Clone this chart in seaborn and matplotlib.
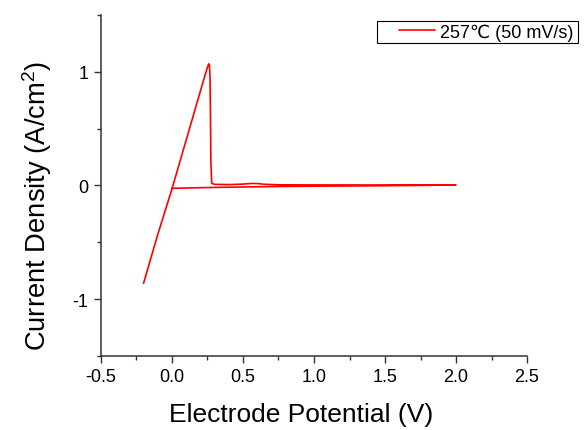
import numpy as np
import pandas as pd
import seaborn as sns
import matplotlib.pyplot as plt
from matplotlib.ticker import MultipleLocator
from matplotlib.patches import Rectangle

sns.set_theme(style='ticks')
plt.rcParams['font.family'] = ['Liberation Sans', 'DejaVu Sans']
plt.rcParams['axes.unicode_minus'] = False
plt.rcParams['mathtext.default'] = 'regular'

# cyclic voltammogram, forward sweep then return sweep
potential = [-0.20, -0.10, 0.00, 0.10, 0.20, 0.235, 0.250, 0.258, 0.264, 0.268,
             0.271, 0.274, 0.280, 0.300, 0.400, 0.500, 0.560, 0.600, 0.650,
             0.750, 1.000, 1.250, 1.500, 1.750, 2.000,
             1.750, 1.500, 1.250, 1.000, 0.750, 0.500, 0.250, 0.000]
current = [-0.86, -0.43, -0.03, 0.40, 0.83, 0.98, 1.04, 1.07, 1.06, 0.95,
           0.60, 0.20, 0.02, 0.010, 0.008, 0.012, 0.018, 0.017, 0.011,
           0.006, 0.005, 0.005, 0.004, 0.004, 0.004,
           0.001, -0.002, -0.004, -0.006, -0.009, -0.013, -0.018, -0.025]
label = '257\u2103 (50 mV/s)'

df = pd.DataFrame({'E': potential, 'J': current})

fig = plt.figure(figsize=(5.85, 4.31), dpi=100)
ax = fig.add_axes([0.1726, 0.1717, 0.7283, 0.7912])
sns.lineplot(data=df, x='E', y='J', sort=False, estimator=None, color='#ff0000',
             linewidth=1.2, label=label, ax=ax)

ax.set_xlim(-0.5, 2.5)
ax.set_ylim(-1.5, 1.5)
ax.xaxis.set_major_locator(MultipleLocator(0.5))
ax.xaxis.set_minor_locator(MultipleLocator(0.25))
ax.yaxis.set_major_locator(MultipleLocator(1))
ax.yaxis.set_minor_locator(MultipleLocator(0.5))
ax.set_xticklabels([f'{v:.1f}' for v in ax.get_xticks()])
ax.tick_params(which='major', length=5, width=1, labelsize=13, color='#333333',
               labelcolor='black', pad=4)
ax.tick_params(which='minor', length=3, width=1, color='#333333')
sns.despine(ax=ax)
for s in ['left', 'bottom']:
    ax.spines[s].set_color('#333333')
    ax.spines[s].set_linewidth(1.1)

ax.set_xlabel('Electrode Potential (V)', fontsize=19, color='black')
ax.set_ylabel('Current Density (A/cm$^2$)', fontsize=19.7, color='black')
ax.xaxis.set_label_coords(0.469, -0.135)
ax.yaxis.set_label_coords(-0.11, 0.443)

# legend without frame, the box drawn as in the reference
leg = ax.legend(loc='center left', bbox_to_anchor=(399 / 585, 1 - 33 / 431),
                bbox_transform=fig.transFigure, borderaxespad=0, fontsize=13,
                frameon=False, handlelength=2.0, borderpad=0, handletextpad=0.28)
for t in leg.get_texts():
    t.set_color('black')
fig.patches.append(Rectangle((377 / 585, 1 - 44 / 431), 201 / 585, 22 / 431,
                             transform=fig.transFigure, fill=False,
                             edgecolor='black', linewidth=0.8))

fig.savefig('out.png', dpi=100)
